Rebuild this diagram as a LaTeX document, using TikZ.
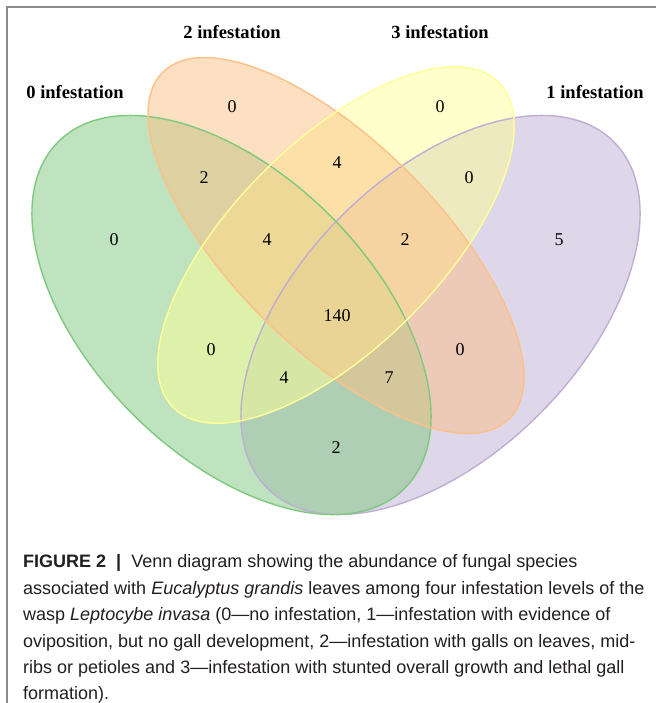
\documentclass[tikz,border=0pt]{standalone}
\usepackage{fontspec}
\setmainfont{Liberation Serif}
\newfontfamily\capfont{Liberation Sans}
\definecolor{vgreen}{HTML}{7FC97F}
\definecolor{vorange}{HTML}{FDC086}
\definecolor{vyellow}{HTML}{FFFF99}
\definecolor{vpurple}{HTML}{BEAED4}
\definecolor{framec}{HTML}{8C8C8C}
\definecolor{captc}{HTML}{231F20}
\begin{document}
\begin{tikzpicture}[x=1pt,y=-1pt,
  setfill/.style={fill=#1, fill opacity=0.5, draw=none},
  setline/.style={draw=#1, line width=1.4pt},
  cat/.style={font=\fontsize{18.5}{20}\selectfont\bfseries, inner sep=0pt},
  num/.style={font=\fontsize{18}{20}\selectfont, inner sep=0pt},
  capline/.style={anchor=base west, inner sep=0pt, text=captc, font=\capfont\fontsize{18}{20}\selectfont}]
\useasboundingbox (0,0) rectangle (656,703);
\fill[white] (0,0) rectangle (656,703);
% frame
\draw[framec, line width=1.2pt] (7,703) -- (7,7) -- (656,7);
% centres
\coordinate (cG) at (231.5,315);
\coordinate (cO) at (336,245.5);
\coordinate (cY) at (336,245);
\coordinate (cP) at (440.5,315);
% fills (order: 1, 0, 3, 2)
\path[setfill=vpurple, rotate around={45:(cP)}] (cP) ellipse [x radius=245pt, y radius=140pt];
\path[setfill=vgreen, rotate around={-45:(cG)}] (cG) ellipse [x radius=245pt, y radius=140pt];
\path[setfill=vyellow, rotate around={45:(cY)}] (cY) ellipse [x radius=230pt, y radius=103pt];
\path[setfill=vorange, rotate around={-45:(cO)}] (cO) ellipse [x radius=245pt, y radius=103pt];
% outlines
\path[setline=vpurple, rotate around={45:(cP)}] (cP) ellipse [x radius=245pt, y radius=140pt];
\path[setline=vgreen, rotate around={-45:(cG)}] (cG) ellipse [x radius=245pt, y radius=140pt];
\path[setline=vorange, rotate around={-45:(cO)}] (cO) ellipse [x radius=245pt, y radius=103pt];
\path[setline=vyellow, rotate around={45:(cY)}] (cY) ellipse [x radius=230pt, y radius=103pt];
% category labels
\node[cat] (l0) at (75,92) {0 infestation};
\node[cat] (l2) at (232,32) {2 infestation};
\node[cat] (l3) at (440,32) {3 infestation};
\node[cat] (l1) at (595,92) {1 infestation};
% counts
\node[num] (n2) at (232,107) {0};
\node[num] (n3) at (440,107) {0};
\node[num] (n23) at (337,163) {4};
\node[num] (n02) at (204,178) {2};
\node[num] (n31) at (469,178) {0};
\node[num] (n0) at (114,240) {0};
\node[num] (n023) at (267,240) {4};
\node[num] (n231) at (405,240) {2};
\node[num] (n1) at (559,240) {5};
\node[num] (nall) at (337,316) {140};
\node[num] (n03) at (211,350) {0};
\node[num] (n21) at (460,350) {0};
\node[num] (n031) at (284,378) {4};
\node[num] (n021) at (389,378) {7};
\node[num] (n01) at (336,448) {2};
% caption
\node[capline] (c1) at (23,567) {\textbf{FIGURE 2}\ \ \textbf{|}\ \ Venn diagram showing the abundance of fungal species};
\node[capline] (c2) at (23,594) {associated with \textit{Eucalyptus grandis} leaves among four infestation levels of the};
\node[capline] (c3) at (23,620.5) {wasp \textit{Leptocybe invasa} (0—no infestation, 1—infestation with evidence of};
\node[capline] (c4) at (23,647) {oviposition, but no gall development, 2—infestation with galls on leaves, mid-};
\node[capline] (c5) at (23,673) {ribs or petioles and 3—infestation with stunted overall growth and lethal gall};
\node[capline] (c6) at (23,699) {formation).};
\end{tikzpicture}
\end{document}
